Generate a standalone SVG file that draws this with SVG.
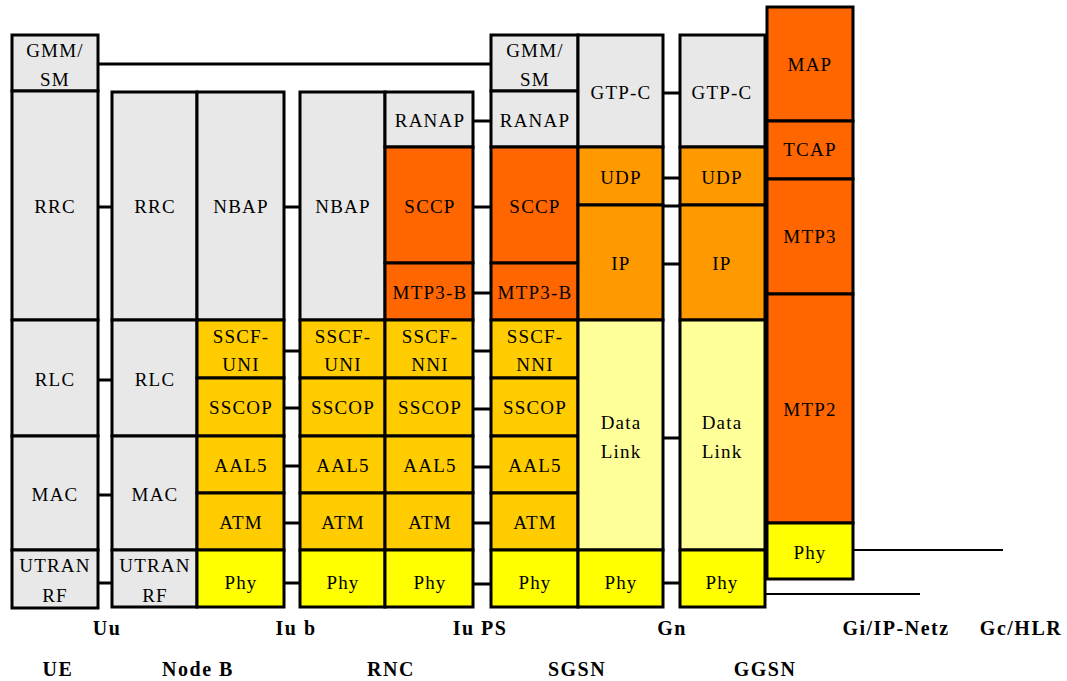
<svg xmlns="http://www.w3.org/2000/svg" width="1067" height="681" viewBox="0 0 1067 681">
<style>
rect{stroke:#000;stroke-width:3}
.g{fill:#E8E8E8}.r{fill:#FF6600}.o{fill:#FF9900}.y{fill:#FFCC00}.p{fill:#FFFF00}.l{fill:#FFFF99}
text{font-family:"Liberation Serif","Times New Roman",serif;font-size:19px;text-anchor:middle;fill:#000;letter-spacing:1.2px}
.b{font-weight:bold;font-size:20px;letter-spacing:1.5px}
#connectors line{stroke:#000;stroke-width:3}
#connectors line.t{stroke-width:2}
</style>
<rect x="0" y="0" width="1067" height="681" fill="#fff" style="stroke:none"/>
<g id="connectors">
<line x1="98" y1="64" x2="491" y2="64"/>
<line x1="98" y1="207" x2="112" y2="207"/>
<line x1="98" y1="380" x2="112" y2="380"/>
<line x1="98" y1="495" x2="112" y2="495"/>
<line x1="98" y1="583" x2="112" y2="583"/>
<line x1="284" y1="207" x2="300" y2="207"/>
<line x1="284" y1="351" x2="300" y2="351"/>
<line x1="284" y1="408" x2="300" y2="408"/>
<line x1="284" y1="466" x2="300" y2="466"/>
<line x1="284" y1="523" x2="300" y2="523"/>
<line x1="284" y1="583" x2="300" y2="583"/>
<line x1="473" y1="121" x2="491" y2="121"/>
<line x1="473" y1="207" x2="491" y2="207"/>
<line x1="473" y1="293" x2="491" y2="293"/>
<line x1="473" y1="351" x2="491" y2="351"/>
<line x1="473" y1="409" x2="491" y2="409"/>
<line x1="473" y1="467" x2="491" y2="467"/>
<line x1="473" y1="523" x2="491" y2="523"/>
<line x1="473" y1="584" x2="491" y2="584"/>
<line x1="663" y1="93" x2="680" y2="93"/>
<line x1="663" y1="178" x2="680" y2="178"/>
<line x1="663" y1="206" x2="680" y2="206"/>
<line x1="663" y1="264" x2="680" y2="264"/>
<line x1="663" y1="438" x2="680" y2="438"/>
<line x1="663" y1="583" x2="680" y2="583"/>
<line class="t" x1="853" y1="550" x2="1003" y2="550"/>
<line class="t" x1="765" y1="594" x2="920" y2="594"/>
</g>
<g id="UE">
<rect class="g" x="12" y="35" width="86" height="56"/>
<text x="55" y="57">GMM/</text><text x="55" y="86">SM</text>
<rect class="g" x="12" y="91" width="86" height="229"/><text x="55" y="213">RRC</text>
<rect class="g" x="12" y="320" width="86" height="116"/><text x="55" y="386">RLC</text>
<rect class="g" x="12" y="436" width="86" height="114"/><text x="55" y="501">MAC</text>
<rect class="g" x="12" y="550" width="86" height="58"/>
<text x="55" y="572">UTRAN</text><text x="55" y="602">RF</text>
</g>
<g id="NodeB">
<rect class="g" x="112" y="92" width="85" height="228"/><text x="155" y="213">RRC</text>
<rect class="g" x="112" y="320" width="85" height="116"/><text x="155" y="386">RLC</text>
<rect class="g" x="112" y="436" width="85" height="114"/><text x="155" y="501">MAC</text>
<rect class="g" x="112" y="550" width="85" height="57"/>
<text x="155" y="572">UTRAN</text><text x="155" y="602">RF</text>
<rect class="g" x="197" y="92" width="87" height="228"/><text x="241" y="213">NBAP</text>
<rect class="y" x="197" y="320" width="87" height="58"/>
<text x="241" y="343">SSCF-</text><text x="241" y="371">UNI</text>
<rect class="y" x="197" y="378" width="87" height="58"/><text x="241" y="414">SSCOP</text>
<rect class="y" x="197" y="436" width="87" height="57"/><text x="241" y="472">AAL5</text>
<rect class="y" x="197" y="493" width="87" height="57"/><text x="241" y="529">ATM</text>
<rect class="p" x="197" y="550" width="87" height="57"/><text x="241" y="589">Phy</text>
</g>
<g id="RNC">
<rect class="g" x="300" y="92" width="85" height="228"/><text x="343" y="213">NBAP</text>
<rect class="y" x="300" y="320" width="85" height="58"/>
<text x="343" y="343">SSCF-</text><text x="343" y="371">UNI</text>
<rect class="y" x="300" y="378" width="85" height="58"/><text x="343" y="414">SSCOP</text>
<rect class="y" x="300" y="436" width="85" height="57"/><text x="343" y="472">AAL5</text>
<rect class="y" x="300" y="493" width="85" height="57"/><text x="343" y="529">ATM</text>
<rect class="p" x="300" y="550" width="85" height="57"/><text x="343" y="589">Phy</text>
<rect class="g" x="385" y="92" width="88" height="55"/><text x="430" y="127">RANAP</text>
<rect class="r" x="385" y="147" width="88" height="116"/><text x="430" y="213">SCCP</text>
<rect class="r" x="385" y="263" width="88" height="57"/><text x="430" y="299">MTP3-B</text>
<rect class="y" x="385" y="320" width="88" height="58"/>
<text x="430" y="343">SSCF-</text><text x="430" y="371">NNI</text>
<rect class="y" x="385" y="378" width="88" height="58"/><text x="430" y="414">SSCOP</text>
<rect class="y" x="385" y="436" width="88" height="57"/><text x="430" y="472">AAL5</text>
<rect class="y" x="385" y="493" width="88" height="57"/><text x="430" y="529">ATM</text>
<rect class="p" x="385" y="550" width="88" height="57"/><text x="430" y="589">Phy</text>
</g>
<g id="SGSN">
<rect class="g" x="491" y="35" width="87" height="56"/>
<text x="535" y="57">GMM/</text><text x="535" y="86">SM</text>
<rect class="g" x="491" y="91" width="87" height="56"/><text x="535" y="127">RANAP</text>
<rect class="r" x="491" y="147" width="87" height="116"/><text x="535" y="213">SCCP</text>
<rect class="r" x="491" y="263" width="87" height="57"/><text x="535" y="299">MTP3-B</text>
<rect class="y" x="491" y="320" width="87" height="58"/>
<text x="535" y="343">SSCF-</text><text x="535" y="371">NNI</text>
<rect class="y" x="491" y="378" width="87" height="58"/><text x="535" y="414">SSCOP</text>
<rect class="y" x="491" y="436" width="87" height="57"/><text x="535" y="472">AAL5</text>
<rect class="y" x="491" y="493" width="87" height="57"/><text x="535" y="529">ATM</text>
<rect class="p" x="491" y="550" width="87" height="57"/><text x="535" y="589">Phy</text>
<rect class="g" x="578" y="35" width="85" height="112"/><text x="621" y="99">GTP-C</text>
<rect class="o" x="578" y="147" width="85" height="58"/><text x="621" y="184">UDP</text>
<rect class="o" x="578" y="205" width="85" height="115"/><text x="621" y="270">IP</text>
<rect class="l" x="578" y="320" width="85" height="230"/>
<text x="621" y="429">Data</text><text x="621" y="458">Link</text>
<rect class="p" x="578" y="550" width="85" height="57"/><text x="621" y="589">Phy</text>
</g>
<g id="GGSN">
<rect class="g" x="680" y="35" width="85" height="112"/><text x="722" y="99">GTP-C</text>
<rect class="o" x="680" y="147" width="85" height="58"/><text x="722" y="184">UDP</text>
<rect class="o" x="680" y="205" width="85" height="115"/><text x="722" y="270">IP</text>
<rect class="l" x="680" y="320" width="85" height="230"/>
<text x="722" y="429">Data</text><text x="722" y="458">Link</text>
<rect class="p" x="680" y="550" width="85" height="57"/><text x="722" y="589">Phy</text>
</g>
<g id="HLR">
<rect class="r" x="767" y="7" width="86" height="114"/><text x="810" y="71">MAP</text>
<rect class="r" x="767" y="121" width="86" height="58"/><text x="810" y="156">TCAP</text>
<rect class="r" x="767" y="179" width="86" height="115"/><text x="810" y="243">MTP3</text>
<rect class="r" x="767" y="294" width="86" height="229"/><text x="810" y="416">MTP2</text>
<rect class="p" x="767" y="523" width="86" height="56"/><text x="810" y="559">Phy</text>
</g>
<g id="labels">
<text class="b" x="107" y="635">Uu</text>
<text class="b" x="296" y="635">Iu b</text>
<text class="b" x="480" y="635">Iu PS</text>
<text class="b" x="672" y="635">Gn</text>
<text class="b" x="896" y="635">Gi/IP-Netz</text>
<text class="b" x="1021" y="635">Gc/HLR</text>
<text class="b" x="58" y="676">UE</text>
<text class="b" x="198" y="676">Node B</text>
<text class="b" x="391" y="676">RNC</text>
<text class="b" x="577" y="676">SGSN</text>
<text class="b" x="765" y="676">GGSN</text>
</g>
</svg>
